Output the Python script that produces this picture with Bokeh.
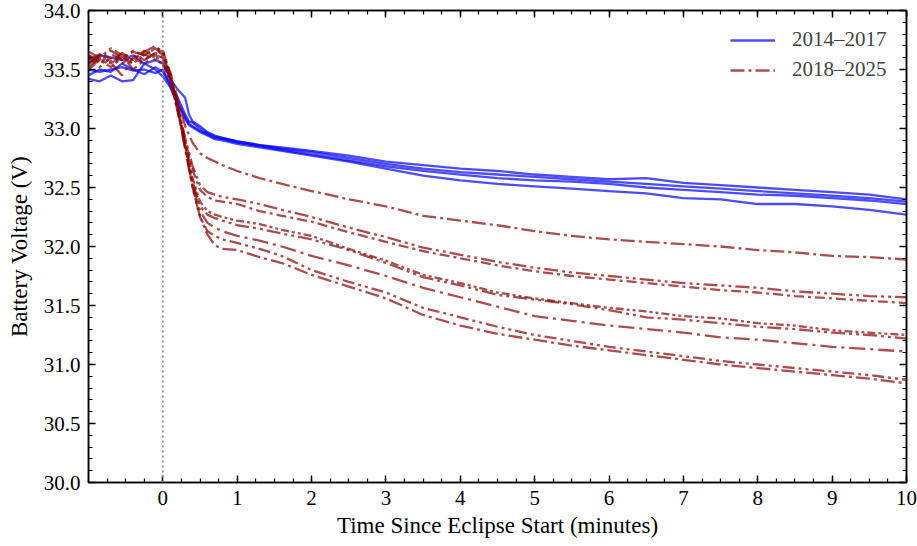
import numpy as np
from bokeh.plotting import figure
from bokeh.models import (Range1d, FixedTicker, LinearAxis, PrintfTickFormatter, Legend, LegendItem,
                          Span, CustomJSTickFormatter)
from bokeh.embed import file_html
from bokeh.resources import INLINE

# ---------------- data ----------------
t_blue = [-1.0, -0.85, -0.7, -0.55, -0.4, -0.25, -0.1, 0.0, 0.1, 0.2, 0.3, 0.35, 0.4, 0.5, 0.6, 0.7, 0.8,
          1.0, 1.3, 1.6, 2.0, 2.5, 3.0, 3.5, 4.0, 4.5, 5.0, 5.5, 6.0, 6.5, 7.0, 7.5, 8.0, 8.5, 9.0, 9.5, 10.0]
blue_1 = [33.45, 33.50, 33.48, 33.55, 33.50, 33.46, 33.52, 33.48, 33.38, 33.26, 33.12, 33.06, 33.05, 33.00, 32.96, 32.93, 32.92,
          32.89, 32.86, 32.84, 32.81, 32.77, 32.72, 32.69, 32.66, 32.64, 32.61, 32.59, 32.57, 32.58, 32.54, 32.52, 32.50, 32.48, 32.46, 32.44, 32.40]
blue_2 = [33.55, 33.62, 33.60, 33.58, 33.62, 33.55, 33.58, 33.55, 33.42, 33.33, 33.26, 33.12, 33.06, 33.02, 32.97, 32.94, 32.92,
          32.89, 32.86, 32.83, 32.80, 32.75, 32.70, 32.66, 32.63, 32.61, 32.59, 32.57, 32.55, 32.53, 32.51, 32.49, 32.47, 32.45, 32.43, 32.41, 32.38]
blue_3 = [33.50, 33.48, 33.50, 33.52, 33.49, 33.50, 33.47, 33.50, 33.36, 33.22, 33.10, 33.04, 33.02, 32.98, 32.95, 32.92, 32.91,
          32.88, 32.85, 32.82, 32.78, 32.73, 32.68, 32.64, 32.61, 32.58, 32.56, 32.55, 32.53, 32.50, 32.48, 32.46, 32.44, 32.43, 32.41, 32.39, 32.36]
blue_4 = [33.42, 33.40, 33.45, 33.40, 33.41, 33.55, 33.50, 33.44, 33.35, 33.20, 33.08, 33.03, 33.01, 32.97, 32.94, 32.91, 32.90,
          32.87, 32.84, 32.81, 32.77, 32.72, 32.66, 32.60, 32.56, 32.53, 32.51, 32.49, 32.47, 32.45, 32.41, 32.40, 32.36, 32.36, 32.34, 32.31, 32.27]

t_red = [-1.0, -0.85, -0.7, -0.55, -0.4, -0.25, -0.1, 0.0, 0.1, 0.2, 0.3, 0.4, 0.5, 0.6, 0.7, 0.8,
         1.0, 1.3, 1.6, 2.0, 2.5, 3.0, 3.5, 4.0, 4.5, 5.0, 5.5, 6.0, 6.5, 7.0, 7.5, 8.0, 8.5, 9.0, 9.5, 10.0]
red_a = [33.62, 33.58, 33.66, 33.60, 33.65, 33.62, 33.68, 33.62, 33.48, 33.25, 33.02, 32.88, 32.79, 32.75, 32.72, 32.69,
         32.64, 32.58, 32.53, 32.47, 32.40, 32.34, 32.26, 32.22, 32.18, 32.13, 32.09, 32.06, 32.04, 32.02, 32.00, 31.97, 31.95, 31.92, 31.91, 31.89]
red_b = [33.55, 33.62, 33.57, 33.64, 33.58, 33.66, 33.60, 33.58, 33.42, 33.18, 32.92, 32.68, 32.52, 32.46, 32.44, 32.42,
         32.40, 32.36, 32.31, 32.25, 32.16, 32.08, 31.99, 31.93, 31.87, 31.82, 31.78, 31.75, 31.72, 31.69, 31.67, 31.65, 31.62, 31.60, 31.58, 31.57]
red_c = [33.60, 33.52, 33.60, 33.55, 33.62, 33.58, 33.64, 33.66, 33.45, 33.20, 32.90, 32.65, 32.48, 32.42, 32.39, 32.38,
         32.36, 32.30, 32.26, 32.21, 32.12, 32.04, 31.96, 31.90, 31.84, 31.79, 31.75, 31.72, 31.69, 31.66, 31.63, 31.61, 31.58, 31.56, 31.54, 31.52]
red_d = [33.50, 33.58, 33.52, 33.60, 33.55, 33.63, 33.58, 33.55, 33.40, 33.15, 32.88, 32.58, 32.38, 32.30, 32.27, 32.25,
         32.22, 32.19, 32.14, 32.09, 31.98, 31.88, 31.76, 31.69, 31.61, 31.56, 31.52, 31.48, 31.45, 31.41, 31.39, 31.35, 31.33, 31.29, 31.27, 31.25]
red_e = [33.65, 33.60, 33.68, 33.62, 33.58, 33.65, 33.70, 33.64, 33.44, 33.18, 32.86, 32.55, 32.34, 32.27, 32.24, 32.22,
         32.18, 32.15, 32.11, 32.06, 31.97, 31.86, 31.74, 31.67, 31.59, 31.55, 31.51, 31.46, 31.40, 31.38, 31.35, 31.32, 31.30, 31.27, 31.25, 31.22]
red_f = [33.58, 33.63, 33.56, 33.45, 33.60, 33.55, 33.62, 33.60, 33.42, 33.14, 32.84, 32.52, 32.30, 32.20, 32.16, 32.13,
         32.09, 32.05, 32.00, 31.92, 31.84, 31.75, 31.65, 31.57, 31.49, 31.41, 31.37, 31.33, 31.30, 31.27, 31.23, 31.21, 31.18, 31.15, 31.13, 31.11]
red_g = [33.62, 33.55, 33.63, 33.58, 33.66, 33.62, 33.68, 33.66, 33.46, 33.20, 32.85, 32.50, 32.25, 32.13, 32.09, 32.06,
         32.03, 31.98, 31.92, 31.80, 31.70, 31.61, 31.48, 31.40, 31.32, 31.25, 31.20, 31.15, 31.11, 31.07, 31.03, 31.00, 30.97, 30.94, 30.91, 30.87]
red_h = [33.52, 33.60, 33.55, 33.62, 33.50, 33.58, 33.64, 33.60, 33.43, 33.16, 32.82, 32.50, 32.25, 32.10, 32.01, 31.98,
         31.97, 31.91, 31.86, 31.76, 31.66, 31.56, 31.42, 31.33, 31.26, 31.21, 31.16, 31.12, 31.08, 31.04, 31.00, 30.97, 30.94, 30.91, 30.88, 30.84]

blue_series = [blue_1, blue_2, blue_3, blue_4]
red_series = [red_a, red_b, red_c, red_d, red_e, red_f, red_g, red_h]
legend_labels = ["2014\u20132017", "2018\u20132025"]
x_ticks = [0, 1, 2, 3, 4, 5, 6, 7, 8, 9, 10]
y_ticks = [30.0, 30.5, 31.0, 31.5, 32.0, 32.5, 33.0, 33.5, 34.0]
eclipse_start = 0.0

# ---------------- styles ----------------
FONT = "Liberation Serif"
BLUE = "#0000ff"
RED = "#8b0000"
red_dashes = ["14 4 3 4", "14 4 3 4 3 4", "10 4 3 4", "8 3 3 3 3 3",
              "14 4 3 4 3 4", "16 5 3 5", "12 4 3 4 3 4", "14 4 3 4"]

p = figure(width=917, height=546, x_range=Range1d(-1, 10), y_range=Range1d(30, 34),
           output_backend="svg", toolbar_location=None,
           min_border_left=88, min_border_right=11, min_border_top=10, min_border_bottom=64)
p.xgrid.visible = False
p.ygrid.visible = False
p.outline_line_color = "black"
p.outline_line_width = 1.5
p.background_fill_color = "white"

x_minor = [round(v, 2) for v in np.arange(-1.0, 10.001, 0.25)]
y_minor = [round(v, 2) for v in np.arange(30.0, 34.001, 0.1)]
xt = FixedTicker(ticks=x_ticks, minor_ticks=x_minor)
yt = FixedTicker(ticks=y_ticks, minor_ticks=y_minor)

def style_axis(ax, labels=True):
    ax.major_tick_in = 7
    ax.major_tick_out = 0
    ax.minor_tick_in = 4
    ax.minor_tick_out = 0
    ax.major_tick_line_width = 1.5
    ax.minor_tick_line_width = 1.2
    ax.axis_line_width = 1.5
    ax.major_tick_line_color = "black"
    ax.minor_tick_line_color = "black"
    ax.axis_line_color = "black"
    if labels:
        ax.major_label_text_font = FONT
        ax.major_label_text_font_size = "21px"
        ax.major_label_text_color = "black"
        ax.axis_label_text_font = FONT
        ax.axis_label_text_font_size = "23px"
        ax.axis_label_text_font_style = "normal"
        ax.axis_label_text_color = "black"
    else:
        ax.formatter = CustomJSTickFormatter(code="return '';")
        ax.major_label_text_font_size = "1px"
        ax.major_label_standoff = 0

p.xaxis.ticker = xt
p.yaxis.ticker = yt
p.yaxis.formatter = PrintfTickFormatter(format="%.1f")
p.xaxis.axis_label = "Time Since Eclipse Start (minutes)"
p.yaxis.axis_label = "Battery Voltage (V)"
style_axis(p.xaxis[0])
style_axis(p.yaxis[0])
p.xaxis.major_label_standoff = 8
p.yaxis.major_label_standoff = 8
p.xaxis.axis_label_standoff = 5
p.yaxis.axis_label_standoff = 9

top_ax = LinearAxis(ticker=xt)
right_ax = LinearAxis(ticker=yt)
style_axis(top_ax, labels=False)
style_axis(right_ax, labels=False)
p.add_layout(top_ax, "above")
p.add_layout(right_ax, "right")

p.add_layout(Span(location=eclipse_start, dimension="height", line_color="#808080",
                  line_dash="2 3", line_width=1.5))

blue_r = []
for ys in blue_series:
    blue_r.append(p.line(t_blue, ys, line_color=BLUE, line_alpha=0.7, line_width=2.3))
red_r = []
for ys, dash in zip(red_series, red_dashes):
    red_r.append(p.line(t_red, ys, line_color=RED, line_alpha=0.7, line_width=2.3, line_dash=dash))

legend = Legend(items=[LegendItem(label=legend_labels[0], renderers=[blue_r[0]]),
                       LegendItem(label=legend_labels[1], renderers=[red_r[0]])],
                location=(642, 400), margin=0, padding=0, spacing=5,
                glyph_width=45, glyph_height=20, label_height=20, label_standoff=17,
                label_text_font=FONT, label_text_font_size="21px",
                border_line_alpha=0, background_fill_alpha=0)
p.add_layout(legend)

open("out.html", "w").write(file_html(p, INLINE))
